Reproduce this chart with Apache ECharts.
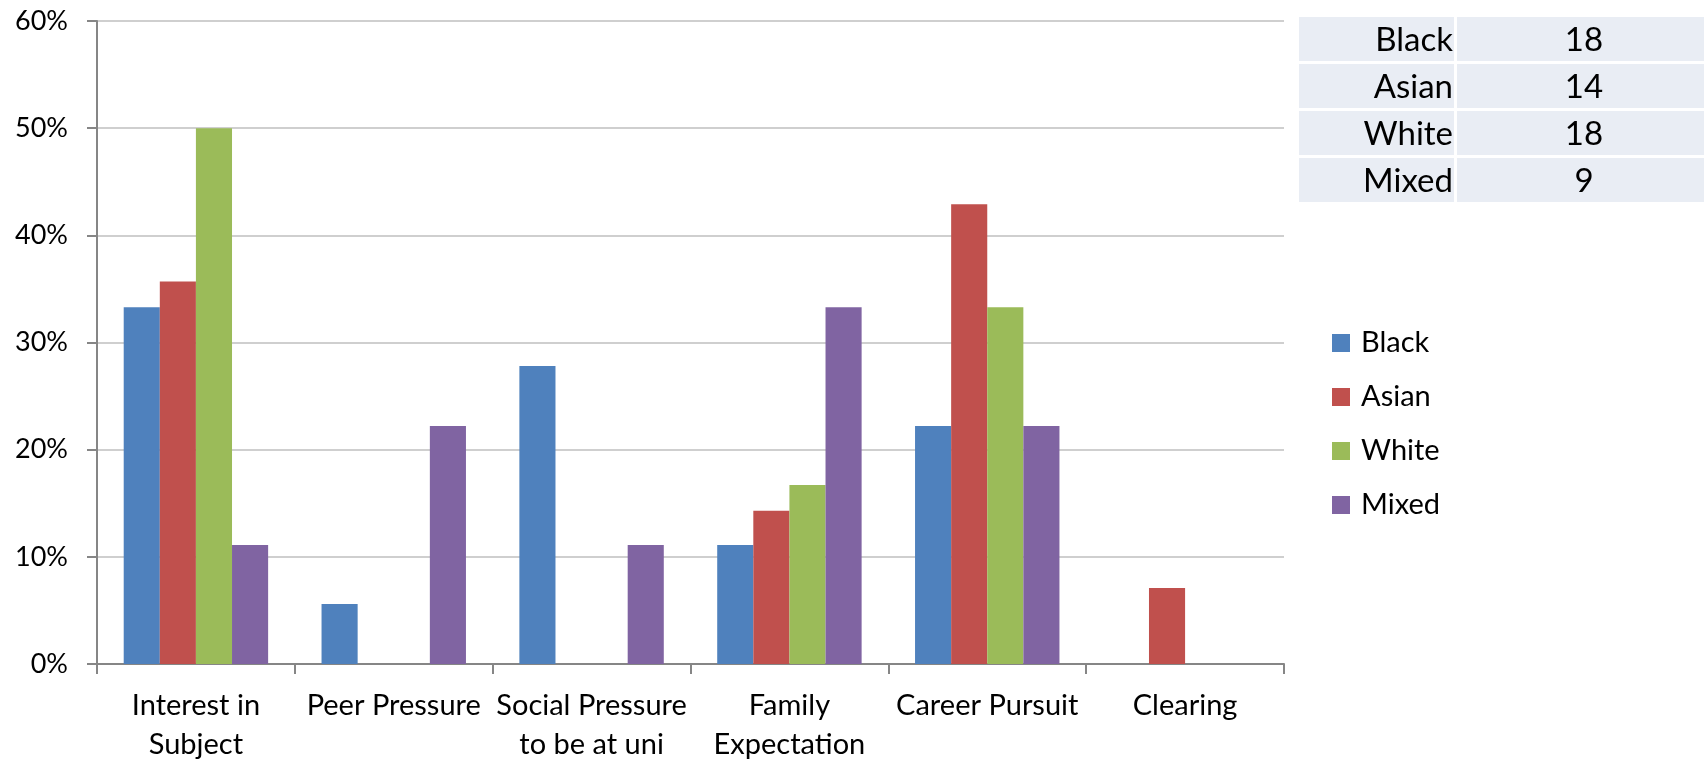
<!DOCTYPE html>
<html><head><meta charset="utf-8">
<script src="https://cdn.jsdelivr.net/npm/echarts@6/dist/echarts.min.js"></script>
<style>html,body{margin:0;padding:0;background:#fff}#c{width:1704px;height:761px}</style>
</head><body><div id="c"></div>
<script>
const categories = ['Interest in\nSubject','Peer Pressure','Social Pressure\nto be at uni','Family\nExpectation','Career Pursuit','Clearing'];
const seriesNames = ['Black','Asian','White','Mixed'];
const black = [33.3, 5.6, 27.8, 11.1, 22.2, 0];
const asian = [35.7, 0, 0, 14.3, 42.9, 7.1];
const white = [50.0, 0, 0, 16.7, 33.3, 0];
const mixed = [11.1, 22.2, 11.1, 33.3, 22.2, 0];
const tableLabels = ['Black','Asian','White','Mixed'];
const tableCounts = ['18','14','18','9'];
const colors = ['#4F81BD','#C0504D','#9BBB59','#8064A2'];
const FONT = 'Lato';

const chart = echarts.init(document.getElementById('c'), null, {renderer:'canvas'});
const values = [black, asian, white, mixed];

const graphic = [];
tableLabels.forEach((lab, i) => {
  const y = 17 + i * 47;
  graphic.push({type:'rect', shape:{x:1299, y:y, width:155, height:44}, style:{fill:'#E9EDF4'}});
  graphic.push({type:'rect', shape:{x:1457, y:y, width:247, height:44}, style:{fill:'#E9EDF4'}});
  graphic.push({type:'text', x:1453, y:y+23, style:{text:lab, fill:'#000', font:'33px '+FONT, align:'right', verticalAlign:'middle'}});
  graphic.push({type:'text', x:1584, y:y+23, style:{text:tableCounts[i], fill:'#000', font:'33px '+FONT, align:'center', verticalAlign:'middle'}});
});

chart.setOption({
  animation:false,
  color: colors,
  textStyle:{fontFamily:FONT},
  grid:{left:97, right:420, top:21, bottom:97, containLabel:false, outerBoundsMode:'none'},
  legend:{
    orient:'vertical', left:1327, top:323, itemWidth:18, itemHeight:18, itemGap:24,
    icon:'rect',
    textStyle:{fontSize:29, color:'#000', fontFamily:FONT, lineHeight:30, padding:[0,0,0,6]},
    data: seriesNames
  },
  xAxis:{
    type:'category', data:categories, boundaryGap:true,
    axisLine:{lineStyle:{color:'#868686', width:2}},
    axisTick:{show:true, length:10, interval:0, lineStyle:{color:'#868686', width:2}},
    axisLabel:{interval:0, fontSize:29, color:'#000', fontFamily:FONT, lineHeight:39, margin:22}
  },
  yAxis:{
    type:'value', min:0, max:60, interval:10,
    axisLine:{show:true, lineStyle:{color:'#868686', width:2}},
    axisTick:{show:true, length:10, inside:false, lineStyle:{color:'#868686', width:2}},
    axisLabel:{formatter:'{value}%', fontSize:27, color:'#000', fontFamily:FONT, margin:29},
    splitLine:{lineStyle:{color:'#BFBFBF', width:1.5}}
  },
  graphic: graphic,
  series: seriesNames.map((n, i) => ({
    name:n, type:'bar', data:values[i], barGap:'0%', barCategoryGap:'27%',
    itemStyle:{color:colors[i]}
  }))
});
</script></body></html>
